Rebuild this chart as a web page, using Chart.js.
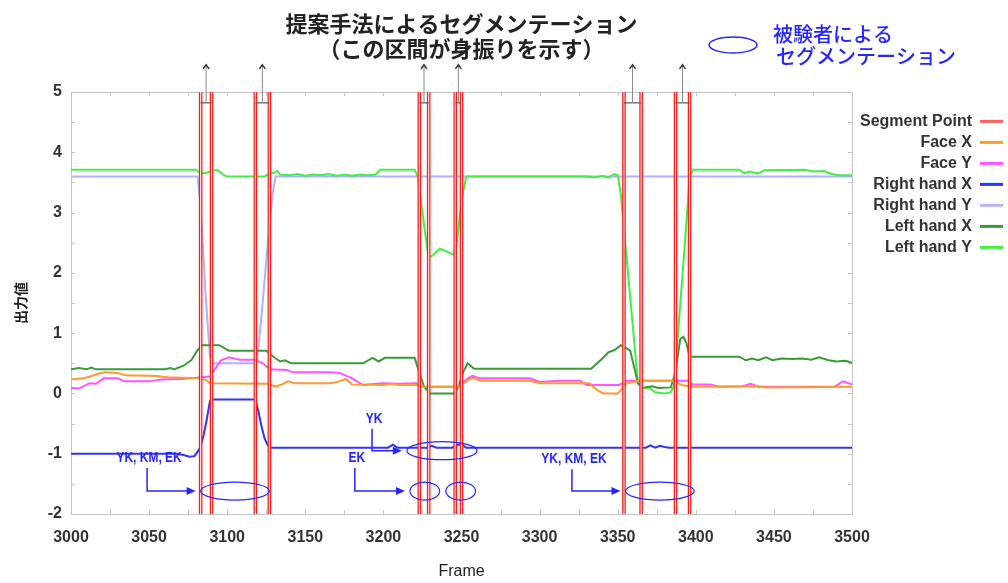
<!DOCTYPE html>
<html><head><meta charset="utf-8">
<script src="https://cdn.jsdelivr.net/npm/chart.js@4.4.0/dist/chart.umd.min.js"></script>
<style>html,body{margin:0;padding:0;background:#fff}#wrap{width:1008px;height:583px}</style>
</head><body><div id="wrap"><canvas id="c" width="1008" height="583"></canvas></div>
<script>
// ---------- text ----------
const titleLines = ['提案手法によるセグメンテーション', '（この区間が身振りを示す）'];
const subjectLegendLines = ['被験者による', 'セグメンテーション'];
const xTitle = 'Frame';
const yTitle = '出力値';
const seriesNames = ['Segment Point', 'Face X', 'Face Y', 'Right hand X', 'Right hand Y', 'Left hand X', 'Left hand Y'];

// ---------- axes ----------
const xMin = 3000, xMax = 3500, xStep = 25, xLabelStep = 50;
const yMin = -2, yMax = 5, yStep = 0.5;

// ---------- proposed segmentation (frames of segment points) ----------
const segmentFrames = [3083, 3090, 3118, 3127, 3223, 3229, 3246, 3250, 3354, 3365, 3387, 3396];
const bracketLevel = 4.82;
const arrowTopLevel = 5.45;

// ---------- subject segmentation ----------
const subjectStart = [3083, 3217, 3240, 3215, 3355];
const subjectEnd   = [3127, 3236, 3259, 3260, 3399];
const subjectLevel = [-1.62, -1.62, -1.62, -0.95, -1.62];
const annotText   = ['YK, KM, EK', 'EK', 'YK', 'YK, KM, EK'];
const annotFrame  = [3050, 3183, 3194, 3322];
const annotLevel  = [-1.07, -1.07, -0.42, -1.09];
const annotTarget = [0, 1, 3, 4];

// ---------- series ----------
const faceXFrames = [3000,3008,3012,3018,3022,3030,3035,3055,3062,3070,3082,3086,3089,3126,3131,3135,3139,3143,3166,3172,3176,3180,3200,3205,3210,3221,3226,3248,3254,3257,3262,3294,3300,3332,3337,3341,3350,3356,3364,3385,3392,3400,3440,3445,3500];
const faceXValues = [0.23,0.25,0.28,0.33,0.35,0.34,0.30,0.29,0.27,0.26,0.25,0.23,0.17,0.16,0.11,0.15,0.20,0.17,0.17,0.20,0.24,0.15,0.14,0.16,0.14,0.14,0.11,0.11,0.22,0.26,0.21,0.21,0.17,0.17,0.05,0.0,0.0,0.17,0.21,0.21,0.13,0.11,0.12,0.10,0.11];

const faceYFrames = [3000,3005,3012,3016,3021,3030,3034,3050,3058,3070,3078,3083,3089,3092,3096,3101,3108,3117,3123,3127,3138,3142,3165,3172,3180,3187,3199,3210,3221,3226,3248,3254,3257,3262,3294,3300,3313,3326,3330,3351,3356,3395,3398,3409,3415,3430,3435,3440,3489,3494,3500];
const faceYValues = [0.09,0.08,0.17,0.16,0.25,0.25,0.20,0.20,0.23,0.24,0.25,0.27,0.28,0.40,0.55,0.60,0.56,0.56,0.50,0.40,0.39,0.35,0.35,0.34,0.25,0.14,0.17,0.16,0.17,0.11,0.11,0.25,0.29,0.25,0.25,0.19,0.21,0.21,0.14,0.14,0.21,0.21,0.15,0.15,0.11,0.12,0.16,0.11,0.11,0.20,0.15];

const rightXFrames = [3000,3068,3072,3076,3079,3081,3083,3085,3087,3089,3091,3118,3120,3122,3124,3126,3128,3130,3203,3206,3209,3212,3228,3231,3234,3244,3247,3250,3253,3368,3371,3374,3377,3380,3383,3500];
const rightXValues = [-1.0,-1.0,-1.02,-1.05,-1.04,-0.97,-0.88,-0.68,-0.42,-0.12,-0.1,-0.1,-0.3,-0.55,-0.75,-0.86,-0.9,-0.9,-0.9,-0.85,-0.9,-0.9,-0.9,-0.87,-0.9,-0.9,-0.86,-0.84,-0.9,-0.9,-0.86,-0.9,-0.87,-0.89,-0.9,-0.9];

const rightYFrames = [3000,3081,3083,3086,3089,3091,3119,3122,3126,3129,3131,3500];
const rightYValues = [3.6,3.6,3.1,1.7,0.6,0.5,0.5,1.3,2.5,3.3,3.6,3.6];

const leftXFrames = [3000,3005,3010,3013,3016,3060,3064,3066,3072,3077,3081,3084,3095,3101,3125,3130,3134,3137,3141,3187,3193,3197,3201,3220,3223,3226,3230,3245,3248,3251,3254,3258,3333,3339,3344,3348,3352,3355,3358,3363,3366,3372,3376,3384,3387,3390,3392,3394,3396,3428,3432,3436,3440,3445,3449,3455,3462,3468,3474,3479,3485,3490,3496,3500];
const leftXValues = [0.40,0.42,0.40,0.43,0.40,0.40,0.42,0.40,0.46,0.55,0.72,0.80,0.80,0.71,0.71,0.60,0.53,0.55,0.50,0.50,0.59,0.53,0.59,0.59,0.35,0.11,0.0,0.0,0.10,0.35,0.50,0.41,0.41,0.55,0.68,0.72,0.80,0.76,0.71,0.17,0.09,0.12,0.09,0.10,0.35,0.90,0.94,0.83,0.61,0.61,0.55,0.58,0.55,0.60,0.55,0.58,0.57,0.58,0.56,0.60,0.55,0.53,0.54,0.51];

const leftYFrames = [3000,3080,3083,3087,3091,3094,3098,3100,3124,3127,3130,3132,3134,3140,3145,3150,3155,3160,3165,3170,3175,3180,3185,3190,3195,3198,3220,3222,3226,3229,3232,3236,3240,3245,3247,3250,3253,3330,3335,3340,3344,3348,3350,3352,3363,3366,3370,3374,3380,3384,3386,3391,3396,3398,3428,3431,3434,3440,3444,3470,3475,3482,3487,3492,3500];
const leftYValues = [3.71,3.71,3.65,3.66,3.70,3.70,3.62,3.60,3.60,3.65,3.66,3.69,3.63,3.62,3.64,3.61,3.63,3.62,3.64,3.61,3.63,3.61,3.63,3.62,3.63,3.71,3.71,3.60,2.80,2.24,2.30,2.40,2.36,2.30,2.50,3.20,3.60,3.60,3.58,3.61,3.58,3.64,3.62,3.30,0.17,0.09,0.10,0.02,0.00,0.02,0.12,1.80,3.55,3.71,3.71,3.65,3.68,3.65,3.70,3.71,3.68,3.69,3.64,3.62,3.62];

// ---------- styles ----------
const colors = ['#ff1a1a', '#ff9933', '#ff55ff', '#3333ff', '#b0b0ff', '#3a9a3a', '#44ee44'];
const legendColors = ['#ff6060', '#ff9933', '#ff55ff', '#3333ff', '#b8b8ff', '#3a9a3a', '#44ee44'];
const annotBlue = '#2525ff';

const xy = (fs, vs) => fs.map((f, i) => ({x: f, y: vs[i]}));
const segmentData = segmentFrames.flatMap(f => [{x: f, y: yMin}, {x: f, y: yMax}, {x: f, y: null}]);
const seriesData = [segmentData, xy(faceXFrames, faceXValues), xy(faceYFrames, faceYValues),
  xy(rightXFrames, rightXValues), xy(rightYFrames, rightYValues), xy(leftXFrames, leftXValues), xy(leftYFrames, leftYValues)];
const orders = [0, 2, 2, 1, 3, 2, 2];

const datasets = seriesNames.map((name, i) => ({
  label: name, data: seriesData[i], borderColor: colors[i], backgroundColor: colors[i],
  borderWidth: i === 0 ? 3.6 : 2, pointRadius: 0, tension: 0, order: orders[i]
}));
// light core of the segment lines (not in legend)
datasets.push({label: '', data: segmentData, borderColor: '#ffeaea', backgroundColor: '#ffeaea',
  borderWidth: 1.1, pointRadius: 0, order: -1});

const line = (ctx, x1, y1, x2, y2) => { ctx.beginPath(); ctx.moveTo(x1, y1); ctx.lineTo(x2, y2); ctx.stroke(); };

const framePlugin = {
  id: 'frame',
  beforeDatasetsDraw(chart) {
    const {ctx, chartArea: a, scales: {x, y}} = chart;
    ctx.save();
    ctx.strokeStyle = '#c4c4c4'; ctx.lineWidth = 1;
    ctx.strokeRect(a.left + 0.5, a.top + 0.5, a.width, a.height);
    x.ticks.forEach(t => { const p = Math.round(x.getPixelForValue(t.value)) + 0.5;
      line(ctx, p, a.bottom, p, a.bottom - 4); line(ctx, p, a.top, p, a.top + 4); });
    y.ticks.forEach(t => { const p = Math.round(y.getPixelForValue(t.value)) + 0.5;
      line(ctx, a.left, p, a.left + 4, p); line(ctx, a.right, p, a.right - 4, p); });
    ctx.restore();
  },
  afterDatasetsDraw(chart) {
    const {ctx, scales: {x, y}} = chart;
    ctx.save();
    // brackets + arrows of the proposed segmentation
    for (let i = 0; i < segmentFrames.length; i += 2) {
      const x1 = x.getPixelForValue(segmentFrames[i]), x2 = x.getPixelForValue(segmentFrames[i + 1]);
      const yb = y.getPixelForValue(bracketLevel), yt = y.getPixelForValue(arrowTopLevel);
      const xm = (x1 + x2) / 2;
      ctx.strokeStyle = '#555'; ctx.lineWidth = 1.2;
      line(ctx, x1, yb, x2, yb);
      ctx.strokeStyle = '#888'; ctx.lineWidth = 1;
      line(ctx, xm, yb, xm, yt);
      ctx.strokeStyle = '#333'; ctx.lineWidth = 1.5;
      ctx.beginPath(); ctx.moveTo(xm - 3, yt + 4); ctx.lineTo(xm, yt); ctx.lineTo(xm + 3, yt + 4); ctx.stroke();
    }
    // subject ellipses
    ctx.strokeStyle = annotBlue; ctx.lineWidth = 1.2;
    subjectStart.forEach((s, i) => {
      const xs = x.getPixelForValue(s), xe = x.getPixelForValue(subjectEnd[i]);
      const yc = y.getPixelForValue(subjectLevel[i]);
      ctx.beginPath(); ctx.ellipse((xs + xe) / 2, yc, (xe - xs) / 2, 9, 0, 0, Math.PI * 2); ctx.stroke();
    });
    // labels and arrows
    ctx.fillStyle = annotBlue;
    annotText.forEach((txt, i) => {
      const tx = x.getPixelForValue(annotFrame[i]), ty = y.getPixelForValue(annotLevel[i]);
      ctx.save();
      ctx.font = 'bold 15px "Liberation Sans", Arial, sans-serif';
      ctx.textAlign = 'center'; ctx.textBaseline = 'middle';
      ctx.translate(tx, ty); ctx.scale(0.8, 1);
      ctx.fillText(txt, 0, 0);
      ctx.restore();
      const k = annotTarget[i];
      const ax = tx - 2, ay = y.getPixelForValue(subjectLevel[k]);
      const ex = x.getPixelForValue(subjectStart[k]) - 5;
      ctx.lineWidth = 1.5;
      ctx.beginPath(); ctx.moveTo(ax, ty + 10); ctx.lineTo(ax, ay); ctx.lineTo(ex - 7, ay); ctx.stroke();
      ctx.beginPath(); ctx.moveTo(ex, ay); ctx.lineTo(ex - 9, ay - 4); ctx.lineTo(ex - 9, ay + 4); ctx.closePath(); ctx.fill();
    });
    // subject legend (top right)
    ctx.lineWidth = 1.5;
    ctx.beginPath(); ctx.ellipse(733, 45, 24, 8, 0, 0, Math.PI * 2); ctx.stroke();
    ctx.font = '500 20px "Noto Sans CJK JP", sans-serif';
    ctx.textAlign = 'left'; ctx.textBaseline = 'middle';
    ctx.fillText(subjectLegendLines[0], 773, 34);
    ctx.fillText(subjectLegendLines[1], 776, 56);
    ctx.restore();
  }
};

new Chart(document.getElementById('c'), {
  type: 'line',
  data: {datasets},
  options: {
    responsive: false, animation: false, devicePixelRatio: 1,
    layout: {padding: 0},
    plugins: {
      tooltip: {enabled: false},
      title: {display: true, text: titleLines, fullSize: false, color: '#222',
        font: {family: '"Noto Sans CJK JP", sans-serif', size: 22, weight: 'bold', lineHeight: 1.1},
        padding: {top: 12, bottom: 31.6}},
      legend: {position: 'right', align: 'start', fullSize: false, rtl: true, textDirection: 'ltr', maxWidth: 156,
        title: {display: true, text: ' ', padding: 1, font: {size: 12}},
        labels: {font: {family: '"Liberation Sans", Arial, sans-serif', size: 16, weight: 'bold'}, color: '#333',
          boxWidth: 23, boxHeight: 3, padding: 5,
          sort: (a, b) => a.datasetIndex - b.datasetIndex,
          generateLabels(chart) {
            return Chart.defaults.plugins.legend.labels.generateLabels(chart)
              .filter(it => it.datasetIndex < seriesNames.length)
              .map(it => Object.assign(it, {fillStyle: legendColors[it.datasetIndex], lineWidth: 0}));
          }}}
    },
    scales: {
      x: {type: 'linear', min: xMin, max: xMax,
        afterFit(s) { s.height = 69; },
        grid: {display: false, drawTicks: false}, border: {display: false},
        ticks: {stepSize: xStep, autoSkip: false, maxRotation: 0, padding: 14, color: '#333',
          font: {family: '"Liberation Sans", Arial, sans-serif', size: 16, weight: 'bold'},
          callback: v => (v % xLabelStep === 0 ? String(v) : '')},
        title: {display: true, text: xTitle, color: '#222', padding: {top: 0, bottom: 2},
          font: {family: '"Liberation Sans", Arial, sans-serif', size: 16}}},
      y: {type: 'linear', min: yMin, max: yMax,
        afterFit(s) { s.width = 71; },
        grid: {display: false, drawTicks: false}, border: {display: false},
        ticks: {stepSize: yStep, padding: 9, color: '#333',
          font: {family: '"Liberation Sans", Arial, sans-serif', size: 16, weight: 'bold'},
          callback: v => (Number.isInteger(v) ? String(v) : '')},
        title: {display: true, text: yTitle, color: '#222', padding: {top: 12, bottom: 0},
          font: {family: '"Noto Sans CJK JP", sans-serif', size: 14, weight: 'bold'}}}
    }
  },
  plugins: [framePlugin]
});
</script></body></html>
